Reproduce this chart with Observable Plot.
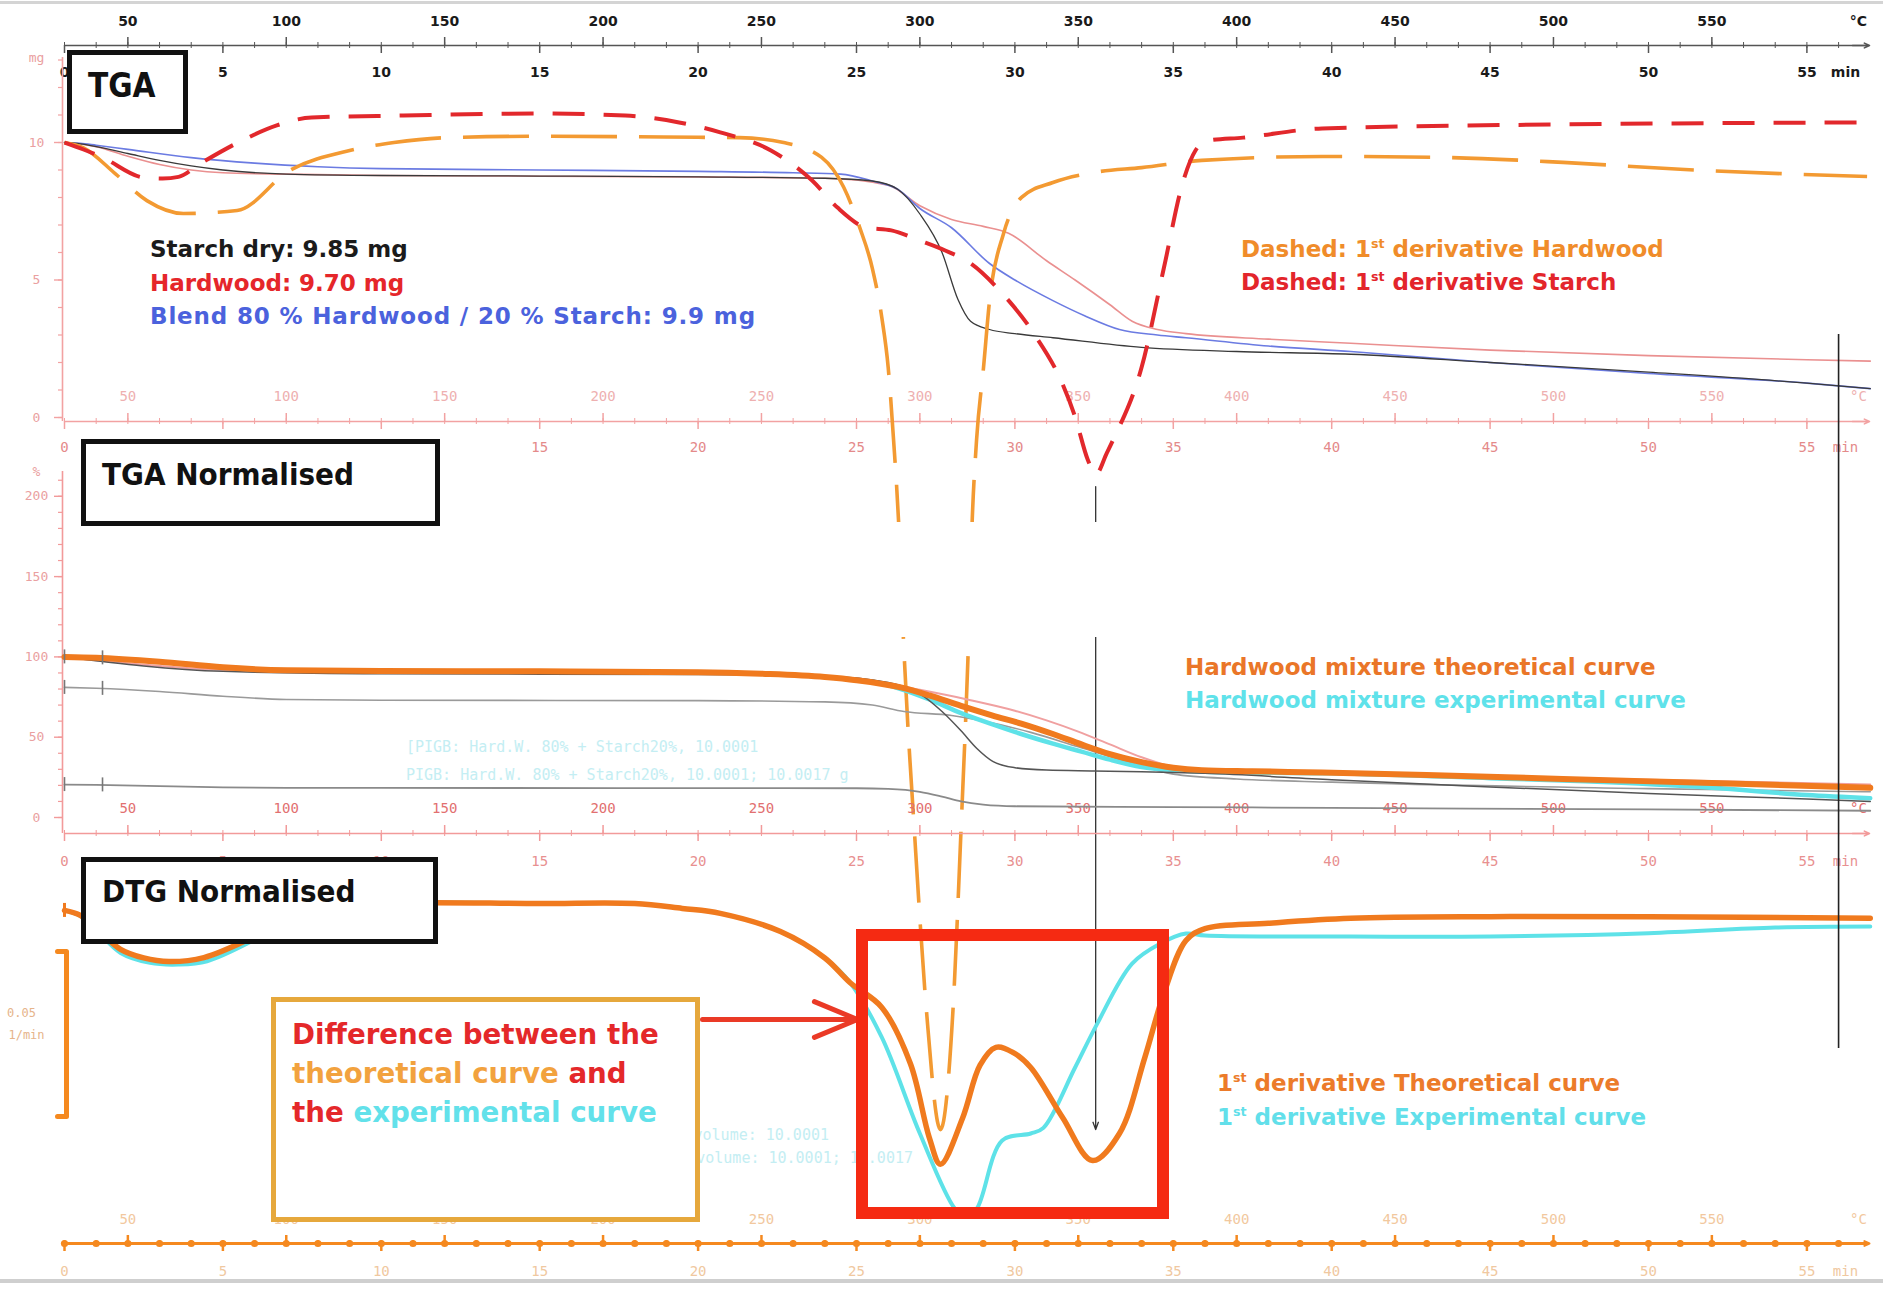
<!DOCTYPE html>
<html>
<head>
<meta charset="utf-8">
<script src="https://cdn.jsdelivr.net/npm/d3@7"></script>
<script src="https://cdn.jsdelivr.net/npm/@observablehq/plot@0.6"></script>
<style>
  html, body { margin: 0; padding: 0; background: #fff; overflow: hidden; }
  #chart { position: relative; width: 1883px; height: 1296px; overflow: hidden; background: #fff; }
  #chart svg { position: absolute; left: 0; top: 0; }
  .lbl { position: absolute; white-space: nowrap; line-height: 1; font-family: "DejaVu Sans", sans-serif; font-weight: 700; }
  .lbl sup { font-size: 0.55em; vertical-align: 0.75em; line-height: 0; }
  .box { position: absolute; box-sizing: border-box; background: #fff; }
  .faint { position: absolute; white-space: nowrap; line-height: 1; font-family: "DejaVu Sans Mono", monospace; font-size: 15px; color: #c4eef3; }
</style>
</head>
<body>
<div id="chart"></div>
<script>
// ---------------------------------------------------------------------------
// Axis ticks (time in min, furnace temperature = 30 °C + 10 °C/min)
const tempTicks = [50, 100, 150, 200, 250, 300, 350, 400, 450, 500, 550];
const minTicks = [0, 5, 10, 15, 20, 25, 30, 35, 40, 45, 50, 55];
const mgTicks = [0, 5, 10];
const pctTicks = [0, 50, 100, 150, 200];

// ---------------------------------------------------------------------------
// TGA, sample mass (mg)
const starchT  = [0, 0.5, 1, 2, 3, 4, 5, 7, 10, 15, 20, 24, 25.5, 26.3, 27, 27.7, 28.2, 28.6, 29.2, 30, 31.2, 34, 37, 40.6, 45, 50, 55, 57];
const starchMg = [10.0, 9.95, 9.85, 9.6, 9.35, 9.15, 9.0, 8.85, 8.8, 8.78, 8.75, 8.7, 8.6, 8.3, 7.4, 6.0, 4.3, 3.5, 3.2, 3.05, 2.9, 2.55, 2.4, 2.3, 2.0, 1.65, 1.25, 1.05];

const hardwoodT  = [0, 0.5, 1, 2, 3, 4, 5, 7, 10, 20, 24, 26, 27, 28, 29, 29.8, 31, 31.9, 33, 33.7, 34.5, 35.4, 38, 40.6, 45, 50, 55, 57];
const hardwoodMg = [10.0, 9.95, 9.85, 9.5, 9.2, 9.0, 8.9, 8.85, 8.8, 8.75, 8.7, 8.45, 7.7, 7.2, 6.95, 6.7, 5.7, 5.0, 4.1, 3.5, 3.2, 3.05, 2.85, 2.7, 2.45, 2.25, 2.1, 2.05];

const blendT  = [0, 0.5, 1, 2, 4, 6, 8, 10, 15, 20, 23, 24.5, 25.5, 26.3, 27, 28, 29.2, 30, 31.2, 32.2, 33.3, 34.5, 35.4, 38, 40.6, 45, 50, 55, 57];
const blendMg = [10.0, 9.97, 9.9, 9.75, 9.45, 9.25, 9.12, 9.05, 9.0, 8.95, 8.9, 8.85, 8.6, 8.3, 7.6, 6.9, 5.6, 5.0, 4.25, 3.7, 3.2, 3.0, 2.9, 2.6, 2.4, 2.0, 1.6, 1.25, 1.05];

// First derivatives of the raw curves (1/min), dashed
const dtgStarchT = [0, 0.6, 1.2, 2.5, 3.1, 3.6, 4.3, 5.6, 6.7, 7.8, 10.7, 14.9, 17.7, 19.4, 20.7, 22.3, 23.6, 24.4, 25.3, 26.1, 27, 27.8, 28.6, 29.6, 30.6, 31.5, 31.9, 32.3, 32.55, 32.9, 33.1, 34, 34.7, 35.3, 35.7, 36.1, 37.2, 39.7, 47.3, 56.9];
const dtgStarch  = [-0.0079, -0.010, -0.0124, -0.0185, -0.0188, -0.0183, -0.0142, -0.0073, -0.0027, -0.0003, 0.0003, 0.0009, 0.0003, -0.0018, -0.0048, -0.0103, -0.0194, -0.0276, -0.0336, -0.0345, -0.0376, -0.0406, -0.0445, -0.0536, -0.0658, -0.081, -0.091, -0.104, -0.1085, -0.102, -0.098, -0.076, -0.046, -0.020, -0.0103, -0.0073, -0.0064, -0.0036, -0.0024, -0.0018];

const dtgHardwoodT = [0, 0.6, 1.6, 2.6, 3.75, 5.45, 7.1, 9.0, 10.4, 12.1, 14.9, 20, 21.3, 22.7, 23.9, 24.6, 25.1, 25.5, 25.8, 26.0, 26.17, 26.33, 26.48, 26.85, 27.2, 27.65, 28.05, 28.3, 28.54, 28.65, 28.79, 29.01, 29.2, 29.64, 30.21, 31.2, 32.6, 34, 35.9, 39.7, 43.5, 47.3, 51, 56.9];
const dtgHardwood  = [-0.0079, -0.0095, -0.0173, -0.0255, -0.0294, -0.0285, -0.0164, -0.0103, -0.0079, -0.0064, -0.006, -0.0063, -0.0064, -0.0079, -0.0124, -0.0215, -0.0336, -0.046, -0.061, -0.076, -0.098, -0.123, -0.158, -0.22, -0.27, -0.307, -0.27, -0.216, -0.158, -0.123, -0.098, -0.076, -0.0558, -0.0355, -0.0245, -0.020, -0.0168, -0.0155, -0.0133, -0.0121, -0.0124, -0.0139, -0.016, -0.0182];

// ---------------------------------------------------------------------------
// TGA normalised (% of initial mass)
const theoT   = [0, 1, 3, 5, 7, 10, 15, 20, 22, 24, 25, 26.4, 27.3, 28.3, 29.3, 30.2, 31.2, 32.1, 33, 34, 35, 35.9, 37.5, 39.7, 43, 47.3, 52, 57];
const theoPct = [100, 99.5, 97, 93.5, 91.7, 91.2, 91, 90.5, 89.5, 87.5, 85.5, 81, 76, 69.5, 63.5, 58.5, 52, 45.5, 39.5, 34.5, 31, 29.5, 28.8, 28, 26.5, 24, 21.5, 18.5];

const expT   = [0, 1, 3, 5, 7, 10, 15, 20, 22, 24, 25, 25.5, 26.4, 27.3, 28.3, 29.3, 30.2, 31.2, 32.1, 33, 34, 35, 36, 40, 45, 48, 52, 55, 57];
const expPct = [100, 99.5, 97, 93.5, 91.7, 91.2, 91, 90.5, 89.5, 87.5, 85.5, 84.5, 80, 73.5, 65, 58, 52, 46, 41, 36, 31.5, 29.5, 28.5, 27.5, 24.5, 22.5, 18.5, 14, 12];

const hwNormT   = [0, 5, 10, 20, 25, 27, 28.5, 30, 31, 32, 33, 34, 35, 36, 40, 50, 57];
const hwNormPct = [100, 92, 90.5, 90, 86.5, 79.5, 73.5, 66.5, 60.5, 53.5, 45.5, 37.5, 31.5, 29, 27.5, 23.5, 20.5];

const stNormT   = [0, 5, 10, 20, 24, 26, 27, 27.7, 28.3, 28.8, 29.3, 30, 31, 32.5, 34, 36, 40, 45, 50, 55, 57];
const stNormPct = [100, 91, 89.5, 89, 88, 84, 77, 66, 54, 43, 35, 31, 29.5, 29, 28.5, 27.5, 23.5, 19, 15, 11.5, 10];

const hw80T   = [0, 1, 3, 5, 7, 10, 20, 24, 25.5, 26.5, 28, 29, 30.5, 32, 33.5, 35, 37, 40, 50, 57];
const hw80Pct = [81, 80.5, 78.5, 75.5, 73.5, 73, 72.8, 72, 70, 66, 63.5, 60, 53, 44, 35, 27, 24, 22, 18, 16];

const st20T   = [0, 1, 3, 5, 7, 10, 20, 25, 26, 27, 27.7, 28.3, 29, 30, 35, 40, 50, 57];
const st20Pct = [20.5, 20.3, 19.5, 18.8, 18.5, 18.4, 18.3, 18.2, 17.8, 16, 13, 10, 8, 7, 6.5, 6, 5, 4.2];

// ---------------------------------------------------------------------------
// DTG normalised (1/min)
const dtgTheoT = [0, 0.5, 1, 1.77, 2.5, 3.3, 4.4, 6, 7, 8, 10, 15, 18, 19.5, 20.7, 22.6, 24, 24.8, 25.8, 26.7, 27.3, 27.65, 28.35, 28.9, 29.4, 29.95, 30.5, 31.5, 32.45, 33.3, 34.1, 34.7, 35.4, 36, 38, 40.6, 45, 50, 57];
const dtgTheo  = [-0.0021, -0.0036, -0.0076, -0.0139, -0.0165, -0.0176, -0.0164, -0.010, -0.005, -0.002, 0, 0, 0, -0.0015, -0.003, -0.0085, -0.0165, -0.024, -0.0315, -0.0485, -0.071, -0.079, -0.065, -0.049, -0.0436, -0.0452, -0.0497, -0.0648, -0.0779, -0.0697, -0.0467, -0.0273, -0.0112, -0.0076, -0.006, -0.0045, -0.004, -0.004, -0.0045];

const dtgExpT = [0, 0.5, 1, 1.77, 2.7, 3.6, 4.5, 6, 7, 8, 10, 15, 18, 19.5, 20.7, 22.6, 24, 24.8, 25.8, 27, 28.1, 28.45, 28.8, 29.6, 30.5, 30.9, 31.9, 32.6, 33.7, 34.6, 35.4, 36, 40, 45, 50, 54, 57];
const dtgExp  = [-0.0021, -0.0038, -0.008, -0.015, -0.018, -0.0185, -0.0175, -0.011, -0.0055, -0.0022, 0, 0, 0, -0.0015, -0.003, -0.0085, -0.0165, -0.024, -0.0406, -0.0697, -0.0924, -0.095, -0.0924, -0.0718, -0.0697, -0.068, -0.0497, -0.0364, -0.0182, -0.0121, -0.0091, -0.0097, -0.010, -0.010, -0.009, -0.0073, -0.007];

// Instrument cursor at the end of the run (min)
const cursorT = 56.0;

// ---------------------------------------------------------------------------
// Layout
const W = 1883, H = 1296;
const X_DOMAIN = [0, 57];
const X_RANGE = [64, 64 + 31.68 * 57];
const P_TGA  = {domain: [0, 10],     range: [417, 142]};
const P_DTG1 = {domain: [0, -0.1],   range: [116, 446]};
const P_NORM = {domain: [0, 100],    range: [817, 656.4]};
const P_DTGN = {domain: [0, -0.05],  range: [903, 1068]};

const perPx = p => (p.domain[1] - p.domain[0]) / (p.range[0] - p.range[1]);
const atPx = (p, px) => p.domain[0] + (p.range[0] - px) * perPx(p);
const tPerPx = (X_DOMAIN[1] - X_DOMAIN[0]) / (X_RANGE[1] - X_RANGE[0]);
const tAtPx = px => X_DOMAIN[0] + (px - X_RANGE[0]) * tPerPx;
const pts = (ts, vs) => ts.map((t, i) => ({t, v: vs[i]}));

const root = document.getElementById("chart");

function layer(p, marks) {
  const svg = Plot.plot({
    width: W, height: H,
    x: {domain: X_DOMAIN, range: X_RANGE, axis: null},
    y: {domain: p.domain, range: p.range, axis: null},
    style: {background: "transparent", overflow: "visible"},
    marks
  });
  root.append(svg);
  return svg;
}

function div(cls, css, html) {
  const d = document.createElement("div");
  d.className = cls;
  Object.assign(d.style, css);
  if (html != null) d.innerHTML = html;
  root.append(d);
  return d;
}

// Time / temperature axis drawn at a given pixel row of a panel
function timeAxis(p, linePx, st) {
  const y = atPx(p, linePx), u = perPx(p);
  const minor = d3.range(0, 57, 1);
  const tempT = tempTicks.map(T => (T - 30) / 10);
  const font = {fontFamily: st.font, fontSize: st.fs, fontWeight: st.fw};
  const m = [
    Plot.ruleY([y], {x1: 0, x2: tAtPx(1866), stroke: st.line, strokeWidth: st.lineW}),
    Plot.arrow([0], {x1: tAtPx(1852), x2: tAtPx(1869), y1: y, y2: y, stroke: st.line, strokeWidth: Math.min(st.lineW, 2), headLength: 10, headAngle: 50}),
    Plot.ruleX(minor, {x: d => d, y1: y - 3 * u, y2: y + 3 * u, stroke: st.line, strokeWidth: st.tickW}),
    Plot.ruleX(tempT, {x: d => d, y1: y, y2: y + 8 * u, stroke: st.line, strokeWidth: st.tickW + 0.5}),
    Plot.ruleX(minTicks, {x: d => d, y1: y - 8 * u, y2: y, stroke: st.line, strokeWidth: st.tickW + 0.5})
  ];
  if (st.dots) m.push(Plot.dot(minor, {x: d => d, y, r: 3.6, fill: st.line}));
  m.push(
    Plot.text(tempTicks, {x: T => (T - 30) / 10, y, dy: -st.up, text: d => String(d), fill: st.tempColor, ...font}),
    Plot.text(["°C"], {x: tAtPx(1858), y, dy: -st.up, text: d => d, fill: st.tempColor, ...font}),
    Plot.text(minTicks, {x: d => d, y, dy: st.down, text: d => String(d), fill: st.minColor, ...font}),
    Plot.text(["min"], {x: tAtPx(1845), y, dy: st.down, text: d => d, fill: st.minColor, ...font})
  );
  return m;
}

// Vertical value axis at the left edge
function valueAxis(p, topPx, botPx, minorStep, ticks, unit, st) {
  const x = tAtPx(62), dt = tPerPx;
  const lo = atPx(p, botPx), hi = atPx(p, topPx);
  const font = {fontFamily: "DejaVu Sans Mono", fontSize: 13};
  return [
    Plot.ruleX([x], {y1: lo, y2: hi, stroke: st.line, strokeWidth: 1.6}),
    Plot.ruleY(d3.range(Math.ceil(lo / minorStep) * minorStep, hi, minorStep), {y: d => d, x1: x - 4 * dt, x2: x, stroke: st.line, strokeWidth: 1.2}),
    Plot.ruleY(ticks, {y: d => d, x1: x - 8 * dt, x2: x, stroke: st.line, strokeWidth: 1.4}),
    Plot.text(ticks, {x, y: d => d, dx: -26, text: d => String(d), fill: st.text, ...font}),
    Plot.text([unit], {x, y: hi, dx: -26, text: d => d, fill: st.text, ...font})
  ];
}

// ---------------------------------------------------------------------------
// Panel 1: TGA (mg)
layer(P_TGA, [
  ...timeAxis(P_TGA, 45, {line: "#555", lineW: 1.6, tickW: 1, font: "DejaVu Sans", fs: 14, fw: 700, tempColor: "#1a1a1a", minColor: "#1a1a1a", up: 24, down: 27}),
  ...timeAxis(P_TGA, 421, {line: "#f2a2a2", lineW: 1.6, tickW: 1, font: "DejaVu Sans Mono", fs: 14, fw: 400, tempColor: "#eeb0b0", minColor: "#e48a8a", up: 25, down: 26}),
  ...valueAxis(P_TGA, 57, 421, 1, mgTicks, "mg", {line: "#f2a2a2", text: "#eaa0a0"}),
  Plot.line(pts(hardwoodT, hardwoodMg), {x: "t", y: "v", stroke: "#ea9090", strokeWidth: 1.6, curve: "monotone-x"}),
  Plot.line(pts(blendT, blendMg), {x: "t", y: "v", stroke: "#6b7be2", strokeWidth: 1.6, curve: "monotone-x"}),
  Plot.line(pts(starchT, starchMg), {x: "t", y: "v", stroke: "#3a3a3a", strokeWidth: 1.3, curve: "monotone-x"})
]);

// Dashed first-derivative curves of the raw samples
const iMin = d3.minIndex(dtgStarch);
layer(P_DTG1, [
  Plot.line(pts(dtgHardwoodT, dtgHardwood), {x: "t", y: "v", stroke: "#f39a32", strokeWidth: 3.6, strokeDasharray: "66 22", strokeLinecap: "butt", curve: "monotone-x"}),
  Plot.line(pts(dtgStarchT, dtgStarch), {x: "t", y: "v", stroke: "#e2282c", strokeWidth: 4, strokeDasharray: "32 19", strokeLinecap: "butt", curve: "monotone-x"}),
  Plot.arrow([0], {x1: dtgStarchT[iMin], x2: dtgStarchT[iMin], y1: dtgStarch[iMin] - 12 * perPx(P_DTG1), y2: d3.min(dtgHardwood), stroke: "#333", strokeWidth: 1.3, headLength: 9, headAngle: 40})
]);

// Blank strip between the raw and the normalised panels
div("box", {left: "80px", top: "522px", width: "1742px", height: "115px", background: "#fff"});

// ---------------------------------------------------------------------------
// Panel 2: TGA normalised (%)
const startTicks = [{t: 0, v: 100}, {t: 1.2, v: 99.4}, {t: 0, v: 81}, {t: 1.2, v: 80.4}, {t: 0, v: 20.5}, {t: 1.2, v: 20.3}];
layer(P_NORM, [
  ...timeAxis(P_NORM, 833, {line: "#f29a9a", lineW: 1.6, tickW: 1, font: "DejaVu Sans Mono", fs: 14, fw: 400, tempColor: "#e27070", minColor: "#e89090", up: 25, down: 28}),
  ...valueAxis(P_NORM, 471, 833, 10, pctTicks, "%", {line: "#f29a9a", text: "#eaa0a0"}),
  Plot.line(pts(st20T, st20Pct), {x: "t", y: "v", stroke: "#8a8a8a", strokeWidth: 1.8, curve: "monotone-x"}),
  Plot.line(pts(hw80T, hw80Pct), {x: "t", y: "v", stroke: "#9a9a9a", strokeWidth: 1.6, curve: "monotone-x"}),
  Plot.line(pts(hwNormT, hwNormPct), {x: "t", y: "v", stroke: "#f0a0a0", strokeWidth: 2, curve: "monotone-x"}),
  Plot.line(pts(expT, expPct), {x: "t", y: "v", stroke: "#5ee2e8", strokeWidth: 4.5, curve: "monotone-x"}),
  Plot.line(pts(stNormT, stNormPct), {x: "t", y: "v", stroke: "#555", strokeWidth: 1.5, curve: "monotone-x"}),
  Plot.line(pts(theoT, theoPct), {x: "t", y: "v", stroke: "#f07a1e", strokeWidth: 6, curve: "monotone-x"}),
  Plot.ruleX(startTicks, {x: "t", y1: d => d.v - 7 * perPx(P_NORM), y2: d => d.v + 7 * perPx(P_NORM), stroke: "#777", strokeWidth: 1.6})
]);

// ---------------------------------------------------------------------------
// Panel 3: DTG normalised (1/min)
const barTop = atPx(P_DTGN, 951), barBot = barTop - 0.05;
const bracket = [{t: tAtPx(57), v: barTop}, {t: tAtPx(66), v: barTop}, {t: tAtPx(66), v: barBot}, {t: tAtPx(57), v: barBot}];
layer(P_DTGN, [
  ...timeAxis(P_DTGN, 1243, {line: "#f5891f", lineW: 3, tickW: 2, dots: true, font: "DejaVu Sans Mono", fs: 14, fw: 400, tempColor: "#f2c89e", minColor: "#f0c8a0", up: 24, down: 28}),
  Plot.line(bracket, {x: "t", y: "v", stroke: "#f5891f", strokeWidth: 5}),
  Plot.text(["0.05"], {x: tAtPx(21), y: atPx(P_DTGN, 1013), text: d => d, fill: "#e6b48a", fontFamily: "DejaVu Sans Mono", fontSize: 12}),
  Plot.text(["1/min"], {x: tAtPx(26), y: atPx(P_DTGN, 1035), text: d => d, fill: "#e6b48a", fontFamily: "DejaVu Sans Mono", fontSize: 12}),
  Plot.line(pts(dtgExpT, dtgExp), {x: "t", y: "v", stroke: "#5ee2e8", strokeWidth: 4, curve: "catmull-rom"}),
  Plot.line(pts(dtgTheoT, dtgTheo), {x: "t", y: "v", stroke: "#f07a1e", strokeWidth: 5.5, curve: "catmull-rom"}),
  Plot.ruleX([0], {y1: dtgTheo[0] - 7 * perPx(P_DTGN), y2: dtgTheo[0] + 7 * perPx(P_DTGN), stroke: "#f07a1e", strokeWidth: 3}),
  Plot.ruleX([cursorT], {y1: atPx(P_DTGN, 1048), y2: atPx(P_DTGN, 334), stroke: "#222", strokeWidth: 1.6}),
  Plot.arrow([0], {x1: tAtPx(702), x2: tAtPx(857), y1: atPx(P_DTGN, 1019), y2: atPx(P_DTGN, 1019), stroke: "#ea3a26", strokeWidth: 5, headLength: 14, headAngle: 45})
]);

// ---------------------------------------------------------------------------
// Faint instrument labels
const faint = (text, x, baseline, alignEnd) => div("faint", {left: x + "px", top: (baseline - 12) + "px", transform: alignEnd ? "translateX(-100%)" : "none"}, text);
faint("[PIGB: Hard.W. 80% + Starch20%, 10.0001", 406, 752);
faint("PIGB: Hard.W. 80% + Starch20%, 10.0001; 10.0017 g", 406, 780);
faint("Sample volume: 10.0001", 829, 1140, true);
faint("Sample volume: 10.0001; 10.0017", 913, 1163, true);

// Annotation boxes
const box = (x, y, w, h, bw, color, fill) => div("box", {left: x + "px", top: y + "px", width: w + "px", height: h + "px", border: `${bw}px solid ${color}`, background: fill});
box(67, 50, 121, 84, 5, "#111", "#fff");
box(81, 439, 359, 87, 5, "#111", "#fff");
box(81, 857, 357, 87, 5, "#111", "#fff");
box(271, 997, 429, 225, 5, "#e6a83c", "#fff");
box(856, 929, 313, 290, 12, "#f52a12", "transparent");

// Frame lines
div("box", {left: "0px", top: "1px", width: "1883px", height: "3px", background: "#d4d4d4"});
div("box", {left: "0px", top: "1279px", width: "1883px", height: "4px", background: "#cfcfcf"});

// Text labels
function label(html, x, baseline, size, color, condensed, spacing) {
  return div("lbl", {
    left: x + "px", top: (baseline - 0.846 * size) + "px", fontSize: size + "px", color,
    fontFamily: condensed ? '"DejaVu Sans Condensed", "DejaVu Sans", sans-serif' : '"DejaVu Sans", sans-serif',
    fontStretch: condensed ? "condensed" : "normal",
    letterSpacing: (spacing || 0) + "px"
  }, html);
}
const sup = "<sup>st</sup>";
label("TGA", 88, 97, 33, "#111", true);
label("TGA Normalised", 102, 485, 31, "#111", true);
label("DTG Normalised", 102, 902, 31, "#111", true);
label("Starch dry: 9.85 mg", 150, 257, 23, "#1b1b1b");
label("Hardwood: 9.70 mg", 150, 291, 23, "#e5262a");
label("Blend 80 % Hardwood / 20 % Starch: 9.9 mg", 150, 324, 23, "#4b62dd", false, 0.85);
label(`Dashed: 1${sup} derivative Hardwood`, 1241, 257, 23, "#f08c2a");
label(`Dashed: 1${sup} derivative Starch`, 1241, 290, 23, "#e3252b");
label("Hardwood mixture theoretical curve", 1185, 675, 23, "#ea7628");
label("Hardwood mixture experimental curve", 1185, 708, 23, "#5fe2ea");
label(`1${sup} derivative Theoretical curve`, 1217, 1091, 23, "#ec7b2a");
label(`1${sup} derivative Experimental curve`, 1217, 1125, 23, "#62dfea");
label("Difference between the", 292, 1044, 27.7, "#e4282a");
label(`<span style="color:#f2a23e">theoretical curve</span> and`, 292, 1083, 27.7, "#e4282a");
label(`the <span style="color:#62e1ea">experimental curve</span>`, 292, 1122, 27.7, "#e4282a");
</script>
</body>
</html>
